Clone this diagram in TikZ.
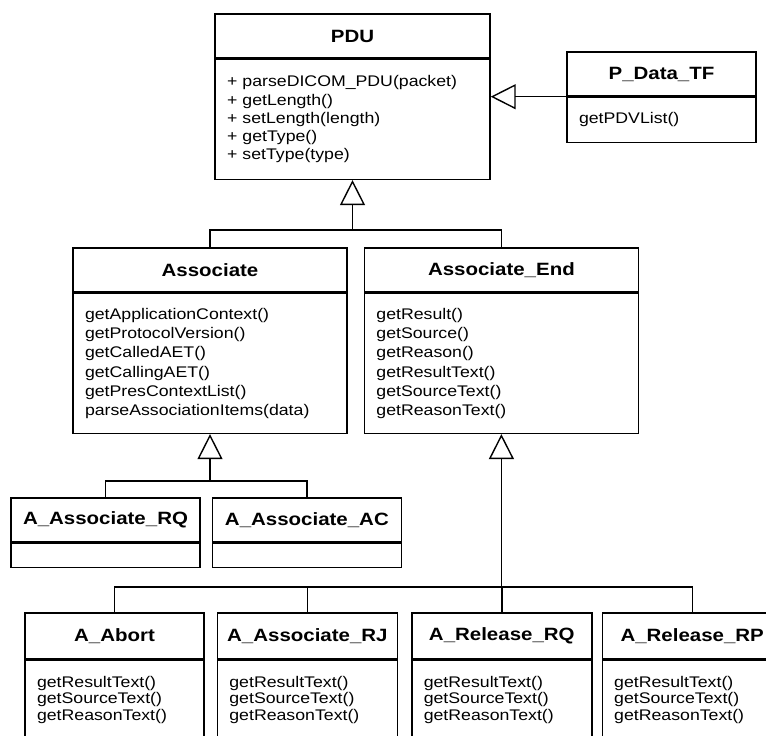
\documentclass[tikz,border=0pt]{standalone}
\usepackage{fontspec}
\setmainfont{Liberation Sans}[FakeStretch=1.15]
\usetikzlibrary{positioning, arrows.meta}

\begin{document}
\begin{tikzpicture}[x=1pt, y=-1pt, node distance=0pt,
    title/.style={draw, line width=1.4pt, minimum height=44pt, inner sep=0pt,
        font=\fontsize{17.8}{20}\selectfont\bfseries},
    members/.style={draw, line width=1.4pt, inner xsep=12pt, inner ysep=0pt,
        align=left, font=\fontsize{15.4}{18.5}\selectfont},
    link/.style={line width=1.4pt},
    gen/.style={link, -{Triangle[open, length=25pt, width=25pt]}}]
    \clip (0,0) rectangle (766,736);

    % Base class
    \node (pduT) [title, minimum width=275pt] at (352.5,36) {PDU};
    \node (pduB) [members, below=of pduT, text width=251pt, minimum height=120pt,
        font=\fontsize{15.4}{18.3}\selectfont]
        {+ parseDICOM\_PDU(packet)\\+ getLength()\\+ setLength(length)\\+ getType()\\+ setType(type)};

    \node (pdataT) [title, minimum width=189pt] at (661.5,74) {P\_Data\_TF};
    \node (pdataB) [members, below=of pdataT, text width=165pt, minimum height=45pt] {getPDVList()};

    % Second level
    \node (assocT) [title, minimum width=274pt] at (210,270) {Associate};
    \node (assocB) [members, below=of assocT, text width=250pt, minimum height=140pt,
        font=\fontsize{15.4}{19.3}\selectfont]
        {getApplicationContext()\\getProtocolVersion()\\getCalledAET()\\getCallingAET()\\getPresContextList()\\parseAssociationItems(data)};

    \node (assocEndT) [title, minimum width=274pt, right=16pt of assocT] {Associate\_End};
    \node (assocEndB) [members, below=of assocEndT, text width=250pt, minimum height=140pt,
        font=\fontsize{15.4}{19.3}\selectfont]
        {getResult()\\getSource()\\getReason()\\getResultText()\\getSourceText()\\getReasonText()};

    % Associate subclasses
    \node (rqT) [title, minimum width=189pt] at (105.5,520) {A\_Associate\_RQ};
    \node (rqB) [members, below=of rqT, text width=165pt, minimum height=24pt] {};
    \node (acT) [title, minimum width=189pt, right=11pt of rqT] {A\_Associate\_AC};
    \node (acB) [members, below=of acT, text width=165pt, minimum height=24pt] {};

    % Associate_End subclasses
    \node (abortT) [title, minimum width=179pt, minimum height=46pt] at (114.5,636) {A\_Abort};
    \node (abortB) [members, below=of abortT, text width=155pt, minimum height=79pt,
        font=\fontsize{15.4}{16.7}\selectfont]
        {getResultText()\\getSourceText()\\getReasonText()};
    \node (rjT) [title, minimum width=180pt, minimum height=46pt, right=12pt of abortT] {A\_Associate\_RJ};
    \node (rjB) [members, below=of rjT, text width=156pt, minimum height=79pt,
        font=\fontsize{15.4}{16.7}\selectfont]
        {getResultText()\\getSourceText()\\getReasonText()};
    \node (relRqT) [title, minimum width=180pt, minimum height=46pt, right=13pt of rjT] {A\_Release\_RQ};
    \node (relRqB) [members, below=of relRqT, text width=156pt, minimum height=79pt,
        font=\fontsize{15.4}{16.7}\selectfont]
        {getResultText()\\getSourceText()\\getReasonText()};
    \node (relRpT) [title, minimum width=180pt, minimum height=46pt, right=9pt of relRqT] {A\_Release\_RP};
    \node (relRpB) [members, below=of relRpT, text width=156pt, minimum height=79pt,
        font=\fontsize{15.4}{16.7}\selectfont]
        {getResultText()\\getSourceText()\\getReasonText()};

    % Generalisations
    \draw[gen] (pdataT.south west) -- (pdataT.south west -| pduB.east);

    \coordinate (pduJ) at ([yshift=-50pt]pduB.south);
    \draw[link] (assocT.north) |- (pduJ) -| (assocEndT.north);
    \draw[gen] (pduJ) -- (pduB.south);

    \coordinate (assocJ) at ([yshift=-47pt]assocB.south);
    \draw[link] (rqT.north) |- (assocJ) -| (acT.north);
    \draw[gen] (assocJ) -- (assocB.south);

    \coordinate (endJ) at ([yshift=-153pt]assocEndB.south);
    \draw[link] (abortT.north) |- (endJ) -| (relRpT.north);
    \draw[link] (rjT.north) -- (rjT.north |- endJ);
    \draw[link] (relRqT.north) -- (relRqT.north |- endJ);
    \draw[gen] (endJ) -- (assocEndB.south);
\end{tikzpicture}
\end{document}
